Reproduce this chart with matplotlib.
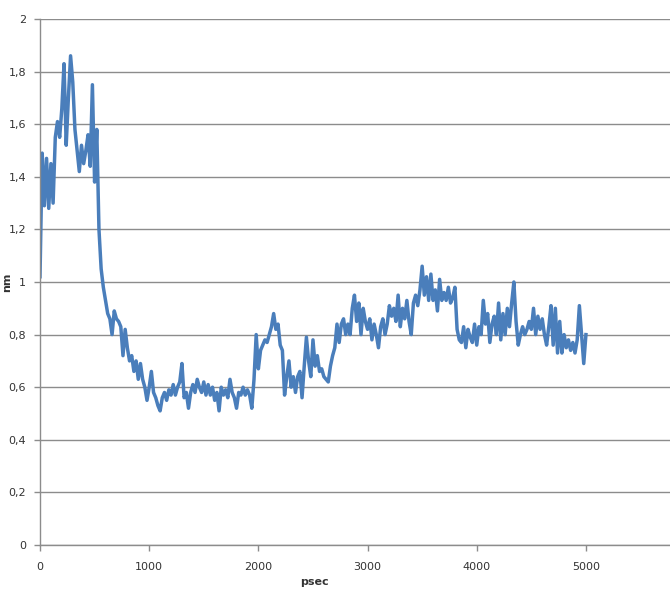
import matplotlib
matplotlib.use("Agg")
from matplotlib import pyplot as plt
from matplotlib.ticker import FuncFormatter

# simulation time step (psec) and the sampled distance values (nm)
step = 20
nm_values = [
    1.02, 1.49, 1.29, 1.47, 1.28, 1.45, 1.30, 1.55, 1.61, 1.55,
    1.66, 1.83, 1.52, 1.70, 1.86, 1.76, 1.58, 1.50, 1.42, 1.52,
    1.45, 1.50, 1.56, 1.44, 1.75, 1.38, 1.58, 1.20, 1.05, 0.98,
    0.93, 0.88, 0.86, 0.80, 0.89, 0.86, 0.85, 0.83, 0.72, 0.82,
    0.75, 0.70, 0.72, 0.66, 0.70, 0.63, 0.69, 0.63, 0.60, 0.55,
    0.60, 0.66, 0.58, 0.56, 0.53, 0.51, 0.56, 0.58, 0.55, 0.59,
    0.57, 0.61, 0.57, 0.60, 0.62, 0.69, 0.56, 0.58, 0.52, 0.58,
    0.61, 0.58, 0.63, 0.60, 0.58, 0.62, 0.57, 0.61, 0.57, 0.60,
    0.55, 0.58, 0.51, 0.60, 0.57, 0.59, 0.56, 0.63, 0.58, 0.56,
    0.52, 0.58, 0.57, 0.60, 0.57, 0.59, 0.57, 0.52, 0.63, 0.80,
    0.67, 0.74, 0.76, 0.78, 0.77, 0.80, 0.83, 0.88, 0.82, 0.84,
    0.76, 0.74, 0.57, 0.64, 0.70, 0.60, 0.64, 0.58, 0.64, 0.66,
    0.56, 0.68, 0.79, 0.70, 0.64, 0.78, 0.68, 0.72, 0.66, 0.67,
    0.64, 0.63, 0.62, 0.68, 0.72, 0.75, 0.84, 0.77, 0.84, 0.86,
    0.80, 0.84, 0.80, 0.90, 0.95, 0.85, 0.92, 0.80, 0.90, 0.85,
    0.82, 0.86, 0.78, 0.84, 0.80, 0.75, 0.83, 0.86, 0.80, 0.84,
    0.91, 0.87, 0.90, 0.85, 0.95, 0.83, 0.90, 0.86, 0.93, 0.85,
    0.80, 0.92, 0.95, 0.91, 0.97, 1.06, 0.95, 1.02, 0.93, 1.03,
    0.93, 0.97, 0.89, 1.01, 0.93, 0.96, 0.93, 0.98, 0.92, 0.94,
    0.98, 0.82, 0.78, 0.77, 0.83, 0.75, 0.82, 0.79, 0.77, 0.84,
    0.76, 0.83, 0.80, 0.93, 0.84, 0.88, 0.77, 0.84, 0.87, 0.80,
    0.92, 0.78, 0.88, 0.80, 0.90, 0.83, 0.92, 1.00, 0.85, 0.76,
    0.80, 0.83, 0.80, 0.82, 0.85, 0.82, 0.90, 0.80, 0.87, 0.82,
    0.86, 0.80, 0.76, 0.83, 0.91, 0.76, 0.90, 0.73, 0.85, 0.73,
    0.80, 0.75, 0.78, 0.74, 0.77, 0.73, 0.78, 0.91, 0.80, 0.69,
    0.80,
]
psec_values = [i * step for i in range(len(nm_values))]

x_ticks = [0, 1000, 2000, 3000, 4000, 5000]
y_ticks = [0, 0.2, 0.4, 0.6, 0.8, 1.0, 1.2, 1.4, 1.6, 1.8, 2.0]

fig = plt.figure(figsize=(6.70, 5.94), dpi=100)
ax = fig.add_axes([40 / 670, 49 / 594, 630 / 670, 526 / 594])

ax.plot(psec_values, nm_values, color="#4a7ebb", linewidth=2.5, solid_joinstyle="round")

ax.set_xlim(0, 5770)
ax.set_ylim(0, 2)
ax.set_xticks(x_ticks)
ax.set_yticks(y_ticks)

# comma as decimal separator on the y axis
ax.yaxis.set_major_formatter(FuncFormatter(lambda v, p: ("%g" % round(v, 1)).replace(".", ",")))

ax.grid(True, axis="y", color="#8c8c8c", linewidth=1.0)
ax.set_axisbelow(True)
for side in ["top", "right"]:
    ax.spines[side].set_visible(False)
for side in ["left", "bottom"]:
    ax.spines[side].set_color("#8c8c8c")
    ax.spines[side].set_linewidth(1.0)

ax.tick_params(axis="both", colors="#8c8c8c", length=4, width=1, labelsize=8, labelcolor="#333333")
ax.tick_params(axis="y", pad=6)
ax.tick_params(axis="x", pad=8)

ax.set_xlabel("psec", fontsize=8, fontweight="bold", color="#333333")
ax.xaxis.set_label_coords(0.435, -0.06)
ax.set_ylabel("nm", fontsize=8, fontweight="bold", color="#333333")
ax.yaxis.set_label_coords(-0.045, 0.5)

fig.savefig("out.png", dpi=100)
